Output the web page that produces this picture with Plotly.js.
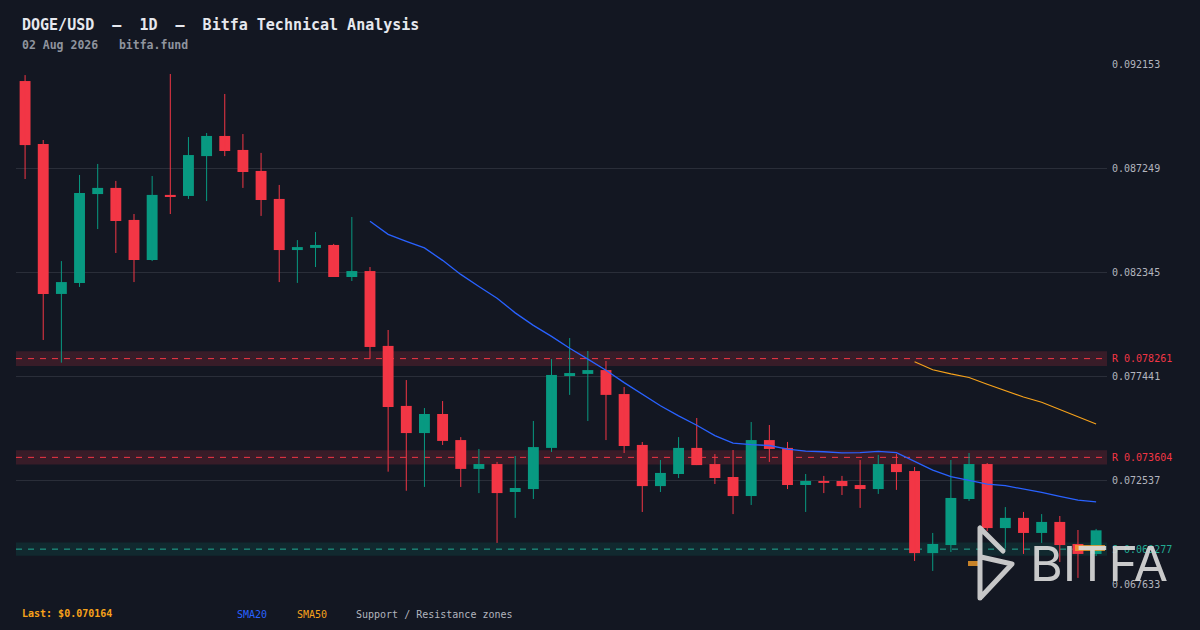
<!DOCTYPE html>
<html>
<head>
<meta charset="utf-8">
<script src="https://cdn.plot.ly/plotly-3.0.1.min.js"></script>
<style>
html,body{margin:0;padding:0;background:#131722;}
#wrap{position:relative;width:1200px;height:630px;overflow:hidden;}
#chart{width:1200px;height:630px;}
#logo{position:absolute;left:0;top:0;pointer-events:none;}
</style>
</head>
<body>
<div id="wrap">
<div id="chart"></div>
<svg id="logo" width="1200" height="630" xmlns="http://www.w3.org/2000/svg">
  <rect x="968" y="561" width="10" height="5" fill="#e8952a" opacity="0.85"/>
  <rect x="1075" y="545" width="30" height="6" fill="#f5a030" opacity="0.8"/>
  <g fill="none" stroke="#d6d6d6" stroke-width="5" stroke-linecap="round" stroke-linejoin="round" opacity="0.92">
    <path d="M980,528 L980,598 M980,528 L1003,551 M981,557 L1012,564 L981,597"/>
  </g>
  <text x="1030" y="581" font-family="Inter, 'Noto Sans', sans-serif" font-size="48" font-weight="400" fill="#d9d9d9" opacity="0.92" textLength="138" lengthAdjust="spacingAndGlyphs">BITFA</text>
</svg>
</div>
<script>
// ---- Data ----
const pairTitle = "DOGE/USD  \u2014  1D  \u2014  Bitfa Technical Analysis";
const subTitle = "02 Aug 2026   bitfa.fund";

const opens = [0.09135,0.08838,0.08131,0.08183,0.08602,0.08631,0.08480,0.08291,0.08598,0.08593,
  0.08781,0.08876,0.08810,0.08711,0.08579,0.08338,0.08348,0.08362,0.08211,0.08239,
  0.07886,0.07603,0.07475,0.07565,0.07442,0.07306,0.07329,0.07197,0.07211,0.07405,
  0.07744,0.07754,0.07772,0.07659,0.07419,0.07225,0.07282,0.07405,0.07329,0.07268,
  0.07178,0.07442,0.07405,0.07230,0.07249,0.07249,0.07230,0.07211,0.07329,0.07296,
  0.06909,0.06947,0.07164,0.07329,0.07027,0.07075,0.07004,0.07056,0.06952,0.06905];
const highs = [0.09163,0.08857,0.08286,0.08692,0.08744,0.08664,0.08508,0.08687,0.09168,0.08871,
  0.08890,0.09074,0.08885,0.08796,0.08645,0.08385,0.08423,0.08367,0.08494,0.08258,
  0.07961,0.07725,0.07593,0.07626,0.07456,0.07400,0.07339,0.07367,0.07532,0.07824,
  0.07923,0.07862,0.07815,0.07692,0.07433,0.07348,0.07456,0.07546,0.07376,0.07395,
  0.07527,0.07513,0.07433,0.07282,0.07273,0.07273,0.07348,0.07372,0.07376,0.07315,
  0.07004,0.07348,0.07381,0.07334,0.07126,0.07103,0.07093,0.07084,0.07018,0.07023];
const lows = [0.08673,0.07914,0.07807,0.08164,0.08437,0.08324,0.08187,0.08286,0.08508,0.08579,
  0.08569,0.08781,0.08631,0.08499,0.08187,0.08183,0.08258,0.08211,0.08192,0.07824,
  0.07293,0.07203,0.07221,0.07419,0.07221,0.07192,0.06957,0.07075,0.07164,0.07386,
  0.07655,0.07532,0.07442,0.07381,0.07103,0.07197,0.07263,0.07324,0.07235,0.07093,
  0.07136,0.07339,0.07211,0.07103,0.07192,0.07183,0.07122,0.07188,0.07207,0.06872,
  0.06825,0.06914,0.07155,0.07013,0.06933,0.06905,0.06957,0.06867,0.06792,0.06895];
const closes = [0.08833,0.08131,0.08187,0.08607,0.08631,0.08475,0.08291,0.08598,0.08588,0.08786,
  0.08876,0.08805,0.08706,0.08574,0.08338,0.08352,0.08362,0.08211,0.08239,0.07881,
  0.07598,0.07475,0.07565,0.07438,0.07306,0.07329,0.07192,0.07216,0.07409,0.07749,
  0.07758,0.07772,0.07655,0.07414,0.07225,0.07287,0.07405,0.07324,0.07263,0.07178,
  0.07442,0.07400,0.07230,0.07249,0.07240,0.07225,0.07211,0.07329,0.07291,0.06909,
  0.06952,0.07169,0.07329,0.07027,0.07075,0.07004,0.07056,0.06947,0.06905,0.070164];

const tickValues = [0.067633,0.072537,0.077441,0.082345,0.087249,0.092153];
const resistanceLevels = [0.078261,0.073604];
const supportLevels = [0.069277];
const lastPrice = 0.070164;
const smaPeriods = [20,50];

// ---- Styling ----
const BG = "#131722", UP = "#089981", DOWN = "#f23645";
const SMA_COLORS = ["#2962ff","#f7a21b"];
const MONO = "'DejaVu Sans Mono', 'Liberation Mono', monospace";
const PL = 16, PR = 1107, PT = 64, PB = 584;
const px = x => (x - PL) / (PR - PL);
const py = y => (PB - y) / (PB - PT);

const idx = closes.map((_, i) => i);
const isUp = closes.map((c, i) => c >= opens[i]);

// candle bodies
const bodyTrace = {
  type: "bar", x: idx,
  base: closes.map((c, i) => Math.min(c, opens[i])),
  y: closes.map((c, i) => Math.abs(c - opens[i])),
  width: 0.6,
  marker: {color: isUp.map(u => u ? UP : DOWN), line: {width: 0}},
  hoverinfo: "skip"
};
// wicks
function wickTrace(up) {
  const xs = [], ys = [];
  idx.forEach(i => { if (isUp[i] === up) { xs.push(i, i, null); ys.push(lows[i], highs[i], null); } });
  return {type: "scatter", mode: "lines", x: xs, y: ys, line: {color: up ? UP : DOWN, width: 1}, hoverinfo: "skip"};
}
// moving averages derived from closes
function sma(n) {
  return closes.map((_, i) => {
    if (i < n - 1) return null;
    let s = 0; for (let k = i - n + 1; k <= i; k++) s += closes[k];
    return s / n;
  });
}
const smaTraces = smaPeriods.map((n, j) => ({
  type: "scatter", mode: "lines", x: idx, y: sma(n),
  line: {color: SMA_COLORS[j], width: j === 0 ? 1.3 : 1.1}, hoverinfo: "skip", connectgaps: false
}));

// zones
const shapes = [];
const zoneAnn = [];
function addZone(level, fill, lineColor, label, textColor) {
  const half = level * 0.0045;
  shapes.push({type: "rect", xref: "paper", x0: 0, x1: 1, yref: "y", y0: level - half, y1: level + half,
    fillcolor: fill, line: {width: 0}, layer: "below"});
  shapes.push({type: "line", xref: "paper", x0: 0, x1: 1, yref: "y", y0: level, y1: level,
    line: {color: lineColor, width: 1, dash: "6px,6px"}, layer: "below"});
  zoneAnn.push({xref: "paper", x: 1, xshift: 3, yref: "y", y: level, xanchor: "left", yanchor: "middle",
    text: label + " " + level.toFixed(6), showarrow: false, font: {family: MONO, size: 10, color: textColor}});
}
resistanceLevels.forEach(l => addZone(l, "rgba(242,54,69,0.17)", "#f23645", "R", "#f23645"));
supportLevels.forEach(l => addZone(l, "rgba(8,153,129,0.14)", "#22ab94", "S", "#22ab94"));

const textAnn = [
  {x: px(20), y: py(24.5), text: "<b>" + pairTitle + "</b>", font: {family: MONO, size: 15, color: "#e6e8ee"}},
  {x: px(20), y: py(45.5), text: "<b>" + subTitle + "</b>", font: {family: MONO, size: 11.5, color: "#8f949e"}},
  {x: px(20), y: py(613), text: "<b>Last: $" + lastPrice.toFixed(6) + "</b>", font: {family: MONO, size: 10, color: "#f7a21b"}},
  {x: px(235), y: py(614.5), text: "SMA" + smaPeriods[0], font: {family: MONO, size: 10, color: SMA_COLORS[0]}},
  {x: px(295), y: py(614.5), text: "SMA" + smaPeriods[1], font: {family: MONO, size: 10, color: SMA_COLORS[1]}},
  {x: px(354), y: py(614.5), text: "Support / Resistance zones", font: {family: MONO, size: 10, color: "#b2b5be"}}
].map(a => Object.assign({xref: "paper", yref: "paper", xanchor: "left", yanchor: "middle", showarrow: false}, a));

const layout = {
  width: 1200, height: 630,
  paper_bgcolor: BG, plot_bgcolor: BG,
  margin: {l: PL, r: 1200 - PR, t: PT, b: 630 - PB, pad: 0},
  showlegend: false,
  xaxis: {range: [-0.5, 59.6], showgrid: false, zeroline: false, showticklabels: false, showline: false, ticks: "", fixedrange: true},
  yaxis: {range: [tickValues[0], tickValues[tickValues.length - 1]], side: "right",
    tickvals: tickValues, ticktext: tickValues.map(v => v.toFixed(6)),
    showgrid: true, gridcolor: "#2a2e39", gridwidth: 1, zeroline: false, showline: false, ticks: "",
    ticklabelstandoff: 4,
    tickfont: {family: MONO, size: 10, color: "#b2b5be"}, fixedrange: true},
  shapes: shapes,
  annotations: zoneAnn.concat(textAnn),
  hovermode: false
};

Plotly.newPlot("chart", [bodyTrace, wickTrace(true), wickTrace(false)].concat(smaTraces), layout,
  {displayModeBar: false, staticPlot: true});
</script>
</body>
</html>
